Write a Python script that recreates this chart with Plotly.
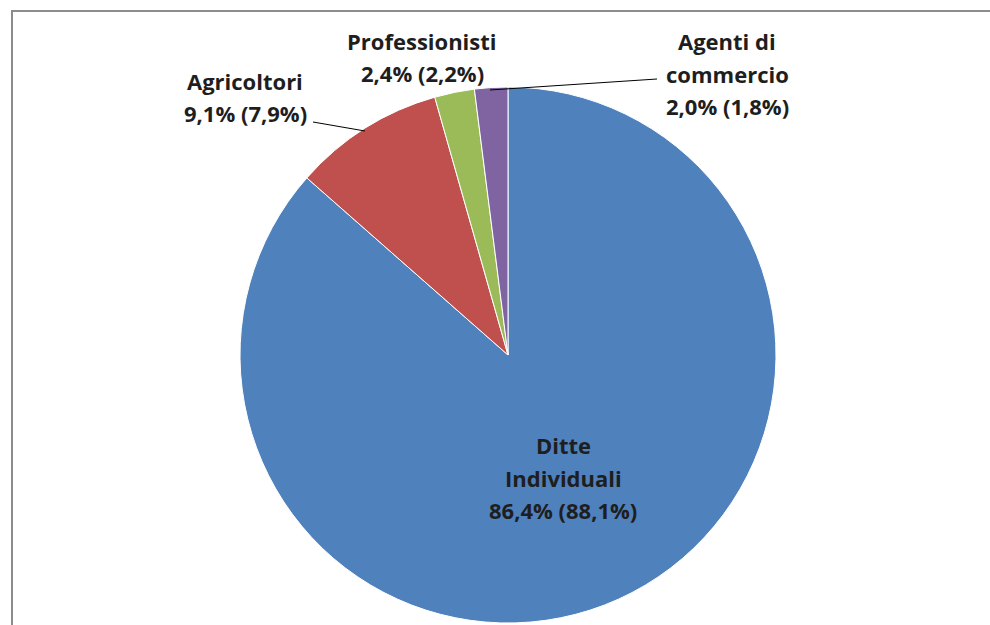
import plotly.graph_objects as go

categories = ["Ditte Individuali", "Agricoltori", "Professionisti", "Agenti di commercio"]
values = [86.4, 9.1, 2.4, 2.0]
values_prev = [88.1, 7.9, 2.2, 1.8]
colors = ["#4F81BD", "#C0504D", "#9BBB59", "#8064A2"]

W, H = 990, 625

def fmt(v):
    return f"{v:.1f}".replace(".", ",") + "%"

def px(x):
    return x / W

def py(y):
    return 1 - y / H

cx, cy, r = 508, 355, 268

fig = go.Figure(go.Pie(
    labels=categories,
    values=values,
    sort=False,
    direction="clockwise",
    rotation=0,
    textinfo="none",
    hoverinfo="label+percent",
    marker=dict(colors=colors, line=dict(color="white", width=1)),
    domain=dict(x=[px(cx - r), px(cx + r)], y=[py(cy + r), py(cy - r)]),
    showlegend=False,
))

# label line layouts: (category index, split lines, x centre, y centres)
label_layout = [
    (0, ["Ditte", "Individuali"], 563, [445, 478, 510]),
    (1, ["Agricoltori"], 245, [81, 113]),
    (2, ["Professionisti"], 422, [41, 73]),
    (3, ["Agenti di", "commercio"], 727, [41, 74, 106]),
]

font = dict(family="Open Sans", size=22, color="#1e1e1e", weight="bold")
annotations = []
for idx, name_lines, x, ys in label_layout:
    lines = name_lines + [f"{fmt(values[idx])} ({fmt(values_prev[idx])})"]
    for text, y in zip(lines, ys):
        annotations.append(dict(
            x=px(x), y=py(y), xref="paper", yref="paper",
            text=text, showarrow=False, xanchor="center", yanchor="middle",
            font=font,
        ))

shapes = [
    # frame
    dict(type="rect", xref="paper", yref="paper",
         x0=px(12), y0=py(640), x1=px(1000), y1=py(11),
         line=dict(color="#8c8c8c", width=2)),
    # leader lines
    dict(type="line", xref="paper", yref="paper",
         x0=px(313), y0=py(122), x1=px(365), y1=py(131),
         line=dict(color="black", width=1)),
    dict(type="line", xref="paper", yref="paper",
         x0=px(490), y0=py(90), x1=px(657), y1=py(79),
         line=dict(color="black", width=1)),
]

fig.update_layout(
    width=W, height=H,
    margin=dict(l=0, r=0, t=0, b=0),
    paper_bgcolor="white",
    plot_bgcolor="white",
    annotations=annotations,
    shapes=shapes,
)

fig.write_html(
    "out.html",
    config={"displayModeBar": False},
    post_script="document.body.style.margin='0';document.body.style.overflow='hidden';",
)
